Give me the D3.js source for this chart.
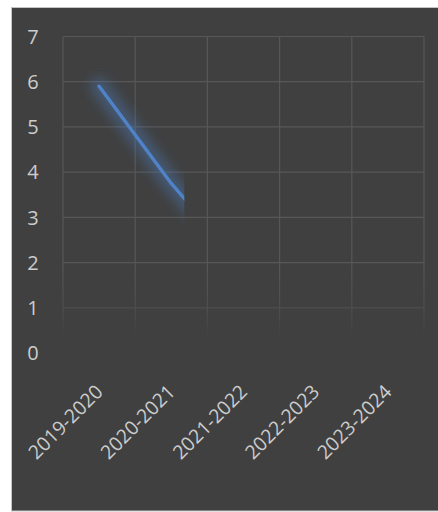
<!DOCTYPE html>
<html>
<head>
<meta charset="utf-8">
<script src="https://cdn.jsdelivr.net/npm/d3@7"></script>
<style>
  html, body { margin: 0; padding: 0; background: #ffffff; }
  svg { display: block; }
</style>
</head>
<body>
<div id="chart"></div>
<script>
// chart data
const categories = ['2019-2020', '2020-2021', '2021-2022', '2022-2023', '2023-2024'];
const values = [5.9, 3.75, 1.9, null, null];
const yTicks = [0, 1, 2, 3, 4, 5, 6, 7];

const W = 438, H = 512;
const plot = { left: 63, right: 424, top: 36.5, bottom: 353 };

const svg = d3.select('#chart').append('svg')
  .attr('width', W)
  .attr('height', H);

// dark card
svg.append('rect')
  .attr('x', 11.5).attr('y', 7.5)
  .attr('width', 440).attr('height', 503.5)
  .attr('fill', '#404040')
  .attr('stroke', '#c4c4c4')
  .attr('stroke-width', 1);

const x = d3.scaleBand().domain(categories).range([plot.left, plot.right]).padding(0);
const y = d3.scaleLinear().domain([0, 7]).range([plot.bottom, plot.top]);

const defs = svg.append('defs');

// grid fades out towards the bottom
const grad = defs.append('linearGradient')
  .attr('id', 'fade').attr('gradientUnits', 'userSpaceOnUse')
  .attr('x1', 0).attr('x2', 0).attr('y1', 0).attr('y2', H);
grad.append('stop').attr('offset', y(2) / H).attr('stop-color', '#fff');
grad.append('stop').attr('offset', (y(1) + 2) / H).attr('stop-color', '#999');
grad.append('stop').attr('offset', (y(0) - 16) / H).attr('stop-color', '#000');
defs.append('mask').attr('id', 'gridMask')
  .append('rect').attr('x', 0).attr('y', 0).attr('width', W).attr('height', H)
  .attr('fill', 'url(#fade)');

const grid = svg.append('g').attr('mask', 'url(#gridMask)')
  .attr('stroke', '#575757').attr('stroke-width', 1.2);

grid.selectAll('.hline')
  .data(yTicks.filter(d => d > 0))
  .enter().append('line')
  .attr('x1', plot.left).attr('x2', plot.right)
  .attr('y1', d => y(d)).attr('y2', d => y(d));

const bounds = categories.map(c => x(c)).concat([x(categories[categories.length - 1]) + x.bandwidth()]);
grid.selectAll('.vline')
  .data(bounds)
  .enter().append('line')
  .attr('x1', d => d).attr('x2', d => d)
  .attr('y1', plot.top).attr('y2', plot.bottom - 16);

// y labels
svg.append('g').selectAll('text')
  .data(yTicks)
  .enter().append('text')
  .attr('x', 33)
  .attr('y', d => y(d))
  .attr('dy', '0.36em')
  .attr('text-anchor', 'middle')
  .attr('fill', '#cccccc')
  .style('font-family', '"Open Sans", sans-serif')
  .style('font-size', '20px')
  .text(d => d);

// x labels, rotated
svg.append('g').selectAll('text')
  .data(categories)
  .enter().append('text')
  .attr('transform', d => `translate(${x(d) + x.bandwidth() / 2 + 5},${393}) rotate(-45)`)
  .attr('text-anchor', 'end')
  .attr('fill', '#cccccc')
  .style('font-family', '"Open Sans", sans-serif')
  .style('font-size', '19.5px')
  .text(d => d);

// the line is only drawn partway into the third column
defs.append('clipPath').attr('id', 'lineClip')
  .append('rect')
  .attr('x', 0).attr('y', 0)
  .attr('width', x(categories[1]) + x.bandwidth() * 0.68).attr('height', H);

defs.append('filter').attr('id', 'glow')
  .attr('x', '-50%').attr('y', '-50%').attr('width', '200%').attr('height', '200%')
  .append('feGaussianBlur').attr('stdDeviation', 6);

const pts = categories.map((c, i) => ({ c, v: values[i] })).filter(d => d.v != null);
const line = d3.line()
  .x(d => x(d.c) + x.bandwidth() / 2)
  .y(d => y(d.v));

const lg = svg.append('g').attr('clip-path', 'url(#lineClip)');
lg.append('path')
  .datum(pts)
  .attr('d', line)
  .attr('fill', 'none')
  .attr('stroke', '#4a7cc0')
  .attr('stroke-opacity', 0.4)
  .attr('stroke-width', 18)
  .attr('stroke-linecap', 'round')
  .attr('filter', 'url(#glow)');
lg.append('path')
  .datum(pts)
  .attr('d', line)
  .attr('fill', 'none')
  .attr('stroke', '#4f82c6')
  .attr('stroke-width', 3.5)
  .attr('stroke-linecap', 'round')
  .attr('stroke-linejoin', 'round');
</script>
</body>
</html>
